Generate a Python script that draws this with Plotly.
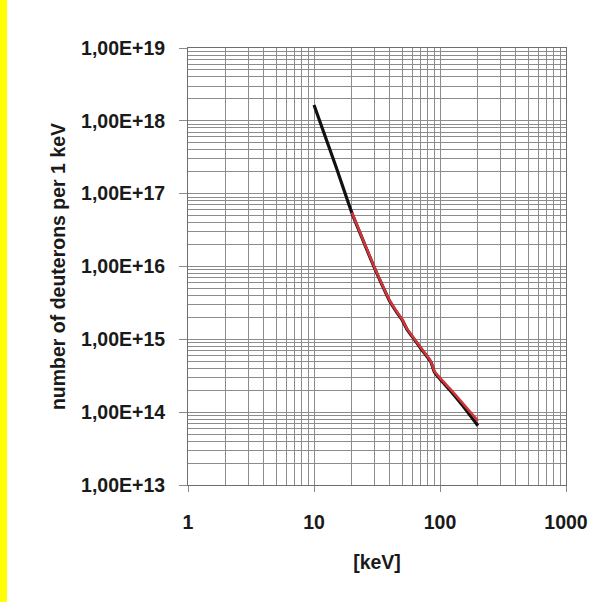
import plotly.graph_objects as go

# Data
energy_black = [10, 15, 20, 25, 30, 35, 40, 45, 50, 55, 60, 70, 80, 85, 90, 100, 120, 150, 200]
counts_black = [1.65e18, 2.3e17, 5.4e16, 2.1e16, 9.8e15, 5.4e15, 3.3e15, 2.4e15, 1.85e15,
                1.35e15, 1.1e15, 7.6e14, 5.6e14, 4.8e14, 3.6e14, 2.85e14, 2.0e14, 1.25e14, 6.5e13]

energy_red = [20, 25, 30, 35, 40, 45, 50, 55, 60, 70, 80, 85, 90, 100, 120, 150, 200]
counts_red = [5.5e16, 2.14e16, 1.0e16, 5.5e15, 3.4e15, 2.45e15, 1.9e15, 1.38e15, 1.12e15,
              7.8e14, 5.75e14, 4.9e14, 3.7e14, 2.95e14, 2.1e14, 1.35e14, 7.6e13]

x_ticks = [1, 10, 100, 1000]
x_ticktext = ["1", "10", "100", "1000"]
y_ticks = [1e13, 1e14, 1e15, 1e16, 1e17, 1e18, 1e19]
y_ticktext = ["1,00E+13", "1,00E+14", "1,00E+15", "1,00E+16", "1,00E+17", "1,00E+18", "1,00E+19"]

x_minor = [m * d for d in x_ticks[:-1] for m in range(2, 10)]
y_minor = [m * d for d in y_ticks[:-1] for m in range(2, 10)]

W, H = 610, 602
L, R, T, B = 188, 44, 48, 117
pw, ph = W - L - R, H - T - B

font = dict(family="Arial, Liberation Sans, sans-serif", size=19.5, color="#1a1a1a", weight="bold")
grid = "#8c8c8c"

fig = go.Figure()
fig.add_trace(go.Scatter(x=energy_black, y=counts_black, mode="lines", line_shape="spline",
                         line=dict(color="#111111", width=3.2, smoothing=0.4), showlegend=False))
fig.add_trace(go.Scatter(x=energy_red, y=counts_red, mode="lines", line_shape="spline",
                         line=dict(color="#d3343a", width=2.6, smoothing=0.4), showlegend=False))

fig.update_xaxes(type="log", range=[0, 3], tickmode="array", tickvals=x_ticks, ticktext=x_ticktext,
                 showgrid=True, gridcolor=grid, gridwidth=1,
                 minor=dict(tickmode="array", tickvals=x_minor, showgrid=True, gridcolor=grid, gridwidth=1),
                 ticks="outside", ticklen=6, tickcolor="#8a8a8a", ticklabelstandoff=14,
                 showline=True, linecolor="#6e6e6e", linewidth=1, mirror=True,
                 tickfont=font, zeroline=False,
                 title=dict(text="[keV]", font=font, standoff=22))
fig.update_yaxes(type="log", range=[13, 19], tickmode="array", tickvals=y_ticks, ticktext=y_ticktext,
                 showgrid=True, gridcolor=grid, gridwidth=1,
                 minor=dict(tickmode="array", tickvals=y_minor, showgrid=True, gridcolor=grid, gridwidth=1),
                 ticks="outside", ticklen=8, tickcolor="#8a8a8a", ticklabelstandoff=10,
                 showline=True, linecolor="#6e6e6e", linewidth=1, mirror=True,
                 tickfont=font, zeroline=False,
                 title=dict(text="number of deuterons per 1 keV", font=font, standoff=10))

# yellow border strips (left and top)
fig.add_shape(type="rect", xref="paper", yref="paper", layer="below",
              x0=-L / pw, x1=(7 - L) / pw, y0=-B / ph, y1=(H - T) / ph,
              fillcolor="#ffff00", line=dict(width=0))
fig.add_shape(type="rect", xref="paper", yref="paper", layer="below",
              x0=-L / pw, x1=(W - L) / pw, y0=(H - T - 4) / ph, y1=(H - T) / ph,
              fillcolor="#ffff00", line=dict(width=0))

fig.update_layout(width=W, height=H, margin=dict(l=L, r=R, t=T, b=B, autoexpand=False),
                  paper_bgcolor="white", plot_bgcolor="white")

fig.write_html("out.html")
